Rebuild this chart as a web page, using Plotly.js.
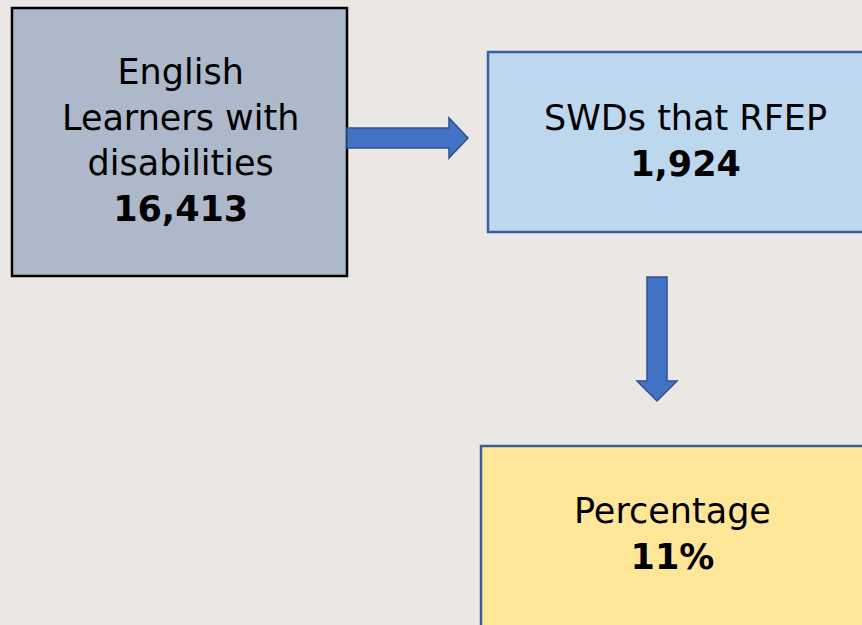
<!DOCTYPE html>
<html><head><meta charset="utf-8">
<script src="https://cdn.plot.ly/plotly-3.0.1.min.js"></script>
<style>html,body{margin:0;padding:0;background:#ebe7e4;}#c{width:862px;height:625px;}</style>
</head><body><div id="c"></div>
<script>
// Data
const boxLabels = ["English<br>Learners with<br>disabilities", "SWDs that RFEP", "Percentage"];
const boxValues = ["16,413", "1,924", "11%"];
const boxFills = ["#adb9ca", "#bdd7ee", "#ffe699"];
const boxBorders = ["#000000", "#3a5f9e", "#3a5f9e"];

// Layout geometry (pixel space)
const boxes = [
  {x0: 12, x1: 347, y0: 8, y1: 276, tx: 180, ty: 140},
  {x0: 488, x1: 875, y0: 52, y1: 232, tx: 685, ty: 141},
  {x0: 481, x1: 875, y0: 446, y1: 640, tx: 672, ty: 534}
];

const shapes = [];
const annotations = [];
boxes.forEach((b, i) => {
  shapes.push({type: "rect", xref: "x", yref: "y", x0: b.x0, x1: b.x1, y0: b.y0, y1: b.y1,
    fillcolor: boxFills[i], line: {color: boxBorders[i], width: 2.5}, layer: "below"});
  annotations.push({x: b.tx, y: b.ty, xref: "x", yref: "y", showarrow: false,
    text: boxLabels[i] + "<br><b>" + boxValues[i] + "</b>",
    font: {family: "DejaVu Sans, sans-serif", size: 35, color: "#000"}, align: "center",
    xanchor: "center", yanchor: "middle"});
});

// arrows
shapes.push({type: "path", xref: "x", yref: "y",
  path: "M347,128 L449,128 L449,118 L468,138 L449,158 L449,148 L347,148 Z",
  fillcolor: "#4472c4", line: {color: "#2f528f", width: 1.5}});
shapes.push({type: "path", xref: "x", yref: "y",
  path: "M647,277 L667,277 L667,381 L677,381 L657,401 L637,381 L647,381 Z",
  fillcolor: "#4472c4", line: {color: "#2f528f", width: 1.5}});

const layout = {
  width: 862, height: 625,
  margin: {l: 0, r: 0, t: 0, b: 0},
  paper_bgcolor: "#ebe7e4", plot_bgcolor: "#ebe7e4",
  xaxis: {range: [0, 862], visible: false, fixedrange: true},
  yaxis: {range: [625, 0], visible: false, fixedrange: true},
  shapes: shapes, annotations: annotations, showlegend: false
};
Plotly.newPlot("c", [], layout, {displayModeBar: false, staticPlot: true});
</script></body></html>
